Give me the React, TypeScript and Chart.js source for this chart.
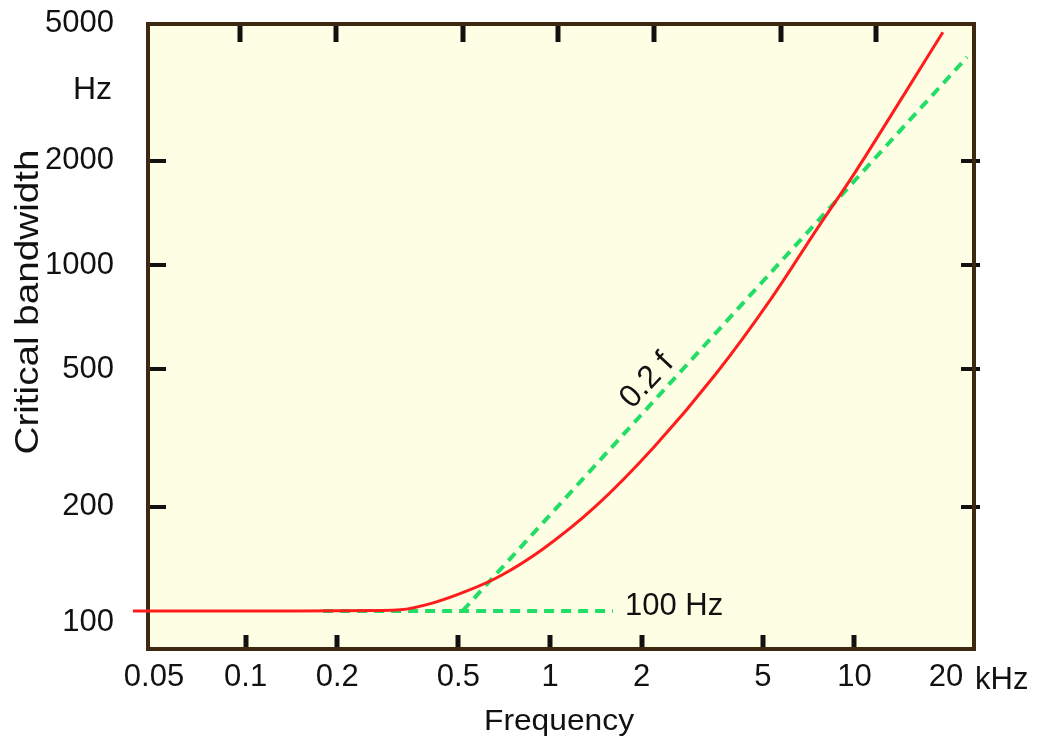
import React, { useEffect, useRef } from 'react';
import { Chart, registerables } from 'chart.js';

Chart.register(...registerables);

const FONT = '"Liberation Sans", Arial, Helvetica, sans-serif';

// Axis ticks (bottom labelled axis)
const xTickValues = [0.05, 0.1, 0.2, 0.5, 1, 2, 5, 10, 20];
const xTickLabels = ['0.05', '0.1', '0.2', '0.5', '1', '2', '5', '10', '20'];
const yTickValues = [100, 200, 500, 1000, 2000, 5000];
const yTickLabels = ['100', '200', '500', '1000', '2000', '5000'];
const xMarkValues = [0.1, 0.2, 0.5, 1, 2, 5, 10];
const yMarkValues = [200, 500, 1000, 2000];

// Critical bandwidth curve (kHz, Hz)
const redFreq = [0.0459, 0.154, 0.269, 0.318, 0.404, 0.516, 0.656, 0.895, 1.304, 2.0, 3.128, 4.66, 6.6, 8.51, 12.31, 16.2];
const redBw = [100, 100, 100.3, 100.7, 105.5, 114.2, 126.2, 151.1, 199.8, 297.8, 484, 797, 1296, 1832, 3142, 4713];

// 100 Hz asymptote
const flatFreq = [0.182, 1.486];
const flatBw = [100, 100];

// 0.2 f asymptote
const slopeFreq = [0.5, 19.3];
const slopeBw = [100, 3990];

const toXY = (xs: number[], ys: number[]) => xs.map((x, i) => ({ x, y: ys[i] }));

function drawText(
  ctx: CanvasRenderingContext2D,
  text: string,
  x: number,
  y: number,
  size: number,
  opts: { align?: CanvasTextAlign; baseline?: CanvasTextBaseline; rotate?: number; width?: number } = {}
) {
  ctx.save();
  ctx.font = `${size}px ${FONT}`;
  ctx.fillStyle = '#111';
  ctx.textAlign = opts.align || 'left';
  ctx.textBaseline = opts.baseline || 'alphabetic';
  ctx.translate(x, y);
  if (opts.rotate) ctx.rotate(opts.rotate);
  if (opts.width) {
    const w = ctx.measureText(text).width;
    ctx.scale(opts.width / w, 1);
  }
  ctx.fillText(text, 0, 0);
  ctx.restore();
}

const framePlugin = {
  id: 'framePlugin',
  beforeDraw(chart: any) {
    const { ctx, chartArea: a } = chart;
    ctx.save();
    ctx.fillStyle = '#fefee4';
    ctx.fillRect(a.left, a.top, a.right - a.left, a.bottom - a.top);
    ctx.restore();
  },
  beforeDatasetsDraw(chart: any) {
    const { ctx, chartArea: a, scales } = chart;
    const xb = scales.x;
    const xt = scales.x2;
    const ys = scales.y;
    ctx.save();
    ctx.strokeStyle = '#111';
    ctx.lineCap = 'butt';
    ctx.lineWidth = 5;
    xMarkValues.forEach((v) => {
      const pt = Math.round(xt.getPixelForValue(v));
      const pb = Math.round(xb.getPixelForValue(v));
      ctx.beginPath();
      ctx.moveTo(pt, a.top);
      ctx.lineTo(pt, a.top + 18);
      ctx.moveTo(pb, a.bottom);
      ctx.lineTo(pb, a.bottom - 14);
      ctx.stroke();
    });
    ctx.lineWidth = 4;
    yMarkValues.forEach((v) => {
      const py = Math.round(ys.getPixelForValue(v));
      ctx.beginPath();
      ctx.moveTo(a.left, py);
      ctx.lineTo(a.left + 18, py);
      ctx.moveTo(a.right - 13, py);
      ctx.lineTo(a.right + 6, py);
      ctx.stroke();
    });
    ctx.strokeStyle = '#3f2810';
    ctx.lineWidth = 4;
    ctx.strokeRect(a.left, a.top, a.right - a.left, a.bottom - a.top);
    ctx.restore();
  },
  afterDatasetsDraw(chart: any) {
    const { ctx } = chart;
    drawText(ctx, 'Hz', 112, 99, 32, { align: 'right' });
    drawText(ctx, 'kHz', 975, 689, 31, { align: 'left' });
    drawText(ctx, '100 Hz', 625, 615, 31, { align: 'left' });
    drawText(ctx, '0.2 f', 647, 381, 32, { align: 'center', baseline: 'middle', rotate: (-47 * Math.PI) / 180 });
    drawText(ctx, 'Critical bandwidth', 38, 302, 34, { align: 'center', rotate: -Math.PI / 2, width: 305 });
    drawText(ctx, 'Frequency', 559, 730, 30, { align: 'center', width: 150 });
  },
};

export default function App() {
  const ref = useRef<HTMLCanvasElement | null>(null);

  useEffect(() => {
    document.body.style.margin = '0';
    const canvas = ref.current;
    if (!canvas) return;
    const chart = new Chart(canvas, {
      type: 'line',
      data: {
        datasets: [
          {
            label: 'Critical bandwidth',
            data: toXY(redFreq, redBw),
            xAxisID: 'x2',
            yAxisID: 'y',
            borderColor: '#ff1c1c',
            borderWidth: 3,
            pointRadius: 0,
            cubicInterpolationMode: 'monotone',
            clip: false as any,
            order: 0,
          },
          {
            label: '100 Hz',
            data: toXY(flatFreq, flatBw),
            xAxisID: 'x2',
            yAxisID: 'y',
            borderColor: '#22dd66',
            borderWidth: 4,
            borderDash: [10, 7],
            pointRadius: 0,
            order: 1,
          },
          {
            label: '0.2 f',
            data: toXY(slopeFreq, slopeBw),
            xAxisID: 'x2',
            yAxisID: 'y',
            borderColor: '#22dd66',
            borderWidth: 4,
            borderDash: [10, 7],
            pointRadius: 0,
            order: 1,
          },
        ],
      },
      options: {
        animation: false,
        responsive: false,
        parsing: false as any,
        layout: { padding: { top: 24, right: 87, left: 0, bottom: 0 } },
        plugins: { legend: { display: false }, tooltip: { enabled: false }, title: { display: false } },
        scales: {
          x: {
            type: 'logarithmic',
            position: 'bottom',
            min: 0.0478,
            max: 24.7,
            border: { display: false },
            grid: { display: false, drawTicks: false },
            afterBuildTicks: (s: any) => {
              s.ticks = xTickValues.map((v) => ({ value: v }));
            },
            afterFit: (s: any) => {
              s.height = 91;
              s.paddingLeft = 0;
              s.paddingRight = 0;
            },
            ticks: {
              autoSkip: false,
              maxRotation: 0,
              padding: 10,
              color: '#111',
              font: { family: FONT, size: 31 },
              callback: (value: any) => {
                const i = xTickValues.indexOf(Number(value));
                return i >= 0 ? xTickLabels[i] : '';
              },
            },
          },
          x2: {
            type: 'logarithmic',
            position: 'top',
            display: false,
            min: 0.0512,
            max: 20.3,
          },
          y: {
            type: 'logarithmic',
            min: 77.6,
            max: 4977,
            border: { display: false },
            grid: { display: false, drawTicks: false },
            afterBuildTicks: (s: any) => {
              s.ticks = yTickValues.map((v) => ({ value: v }));
            },
            afterFit: (s: any) => {
              s.width = 148;
              s.paddingTop = 0;
              s.paddingBottom = 0;
            },
            ticks: {
              autoSkip: false,
              padding: 34,
              color: '#111',
              font: (c: any) => ({
                family: FONT,
                size: 31,
                lineHeight: c.tick && c.tick.value === 100 ? 0.72 : 1.2,
              }),
              callback: (value: any) => {
                const i = yTickValues.indexOf(Number(value));
                if (i < 0) return '';
                return Number(value) === 100 ? ['', yTickLabels[i]] : yTickLabels[i];
              },
            },
          },
        },
      } as any,
      plugins: [framePlugin],
    });
    return () => chart.destroy();
  }, []);

  return (
    <div style={{ width: 1061, height: 740, background: '#fff' }}>
      <canvas ref={ref} width={1061} height={740} style={{ display: 'block' }} />
    </div>
  );
}
